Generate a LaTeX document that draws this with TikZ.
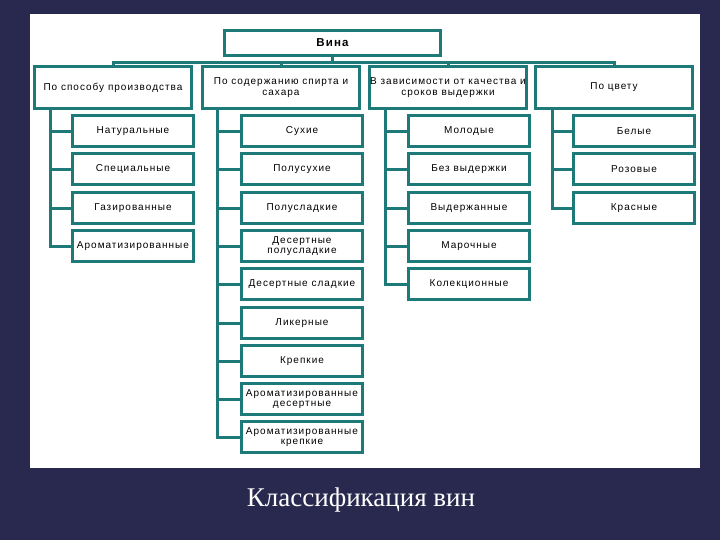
\documentclass[tikz,border=0pt]{standalone}
\usepackage{fontspec}
\setmainfont{Liberation Serif}
\newfontfamily\boxfont[LetterSpace=10]{Liberation Sans}
\definecolor{navybg}{RGB}{41,41,80}
\definecolor{tealb}{RGB}{30,122,120}
\begin{document}
\begin{tikzpicture}[x=1pt,y=-1pt,
  box/.style={draw=tealb, line width=3pt, fill=white, inner sep=0.5pt, outer sep=0pt, align=center,
    font=\boxfont\fontsize{10}{10.5}\selectfont, text=black},
  cat/.style={box, minimum width=157pt, minimum height=42pt},
  kid/.style={box, minimum width=121pt, minimum height=31pt},
  conn/.style={draw=tealb, line width=3pt}]
\useasboundingbox (0,0) rectangle (720,540);
\fill[navybg] (0,0) rectangle (720,540);
\fill[white] (30,14) rectangle (700,468);

\node[box, minimum width=216pt, minimum height=25pt, font=\boxfont\bfseries\fontsize{11.5}{12}\selectfont] (vina) at (332.5,43) {Вина};

\node[cat] (c1) at (113,87.5) {По способу производства};
\node[cat] (c2) at (281,87.5) {По содержанию спирта и\\сахара};
\node[cat] (c3) at (448,87.5) {В зависимости от качества и\\сроков выдержки};
\node[cat] (c4) at (614,87.5) {По цвету};

\foreach \t [count=\i] in {Натуральные, Специальные, Газированные, Ароматизированные}
  \node[kid] (a\i) at (133,{round(131+38.3*(\i-1))}) {\t};
\foreach \t [count=\i] in {Сухие, Полусухие, Полусладкие, {Десертные\\полусладкие}, Десертные сладкие, Ликерные, Крепкие, {Ароматизированные\\десертные}, {Ароматизированные\\крепкие}}
  \node[kid] (b\i) at (302,{round(131+38.3*(\i-1))}) {\t};
\foreach \t [count=\i] in {Молодые, Без выдержки, Выдержанные, Марочные, Колекционные}
  \node[kid] (d\i) at (469,{round(131+38.3*(\i-1))}) {\t};
\foreach \t [count=\i] in {Белые, Розовые, Красные}
  \node[kid] (e\i) at (634,{round(131+38.3*(\i-1))}) {\t};

% top bus
\coordinate (busy) at (0,62.5);
\draw[conn] (vina.south) -- (vina.south |- busy);
\draw[conn] ([xshift=0.5pt]c1.north) -- ([xshift=0.5pt]c1.north |- busy) -- ([xshift=0.5pt]c4.north |- busy) -- ([xshift=0.5pt]c4.north);
\draw[conn] ([xshift=0.5pt]c2.north) -- ([xshift=0.5pt]c2.north |- busy);
\draw[conn] ([xshift=0.5pt]c3.north) -- ([xshift=0.5pt]c3.north |- busy);

% trunks
\coordinate (t1) at (50.5,0);
\coordinate (t2) at (217.5,0);
\coordinate (t3) at (385.5,0);
\coordinate (t4) at (552.5,0);
\draw[conn] (c1.south -| t1) |- ([yshift=-0.5pt]a4.west);
\foreach \i in {1,2,3} \draw[conn] ([yshift=-0.5pt]a\i.west -| t1) -- ([yshift=-0.5pt]a\i.west);
\draw[conn] (c2.south -| t2) |- ([yshift=-0.5pt]b9.west);
\foreach \i in {1,...,8} \draw[conn] ([yshift=-0.5pt]b\i.west -| t2) -- ([yshift=-0.5pt]b\i.west);
\draw[conn] (c3.south -| t3) |- ([yshift=-0.5pt]d5.west);
\foreach \i in {1,...,4} \draw[conn] ([yshift=-0.5pt]d\i.west -| t3) -- ([yshift=-0.5pt]d\i.west);
\draw[conn] (c4.south -| t4) |- ([yshift=-0.5pt]e3.west);
\foreach \i in {1,2} \draw[conn] ([yshift=-0.5pt]e\i.west -| t4) -- ([yshift=-0.5pt]e\i.west);

\node[text=white, font=\fontsize{27}{30}\selectfont] (cap) at (361,500) {Классификация вин};
\end{tikzpicture}
\end{document}
